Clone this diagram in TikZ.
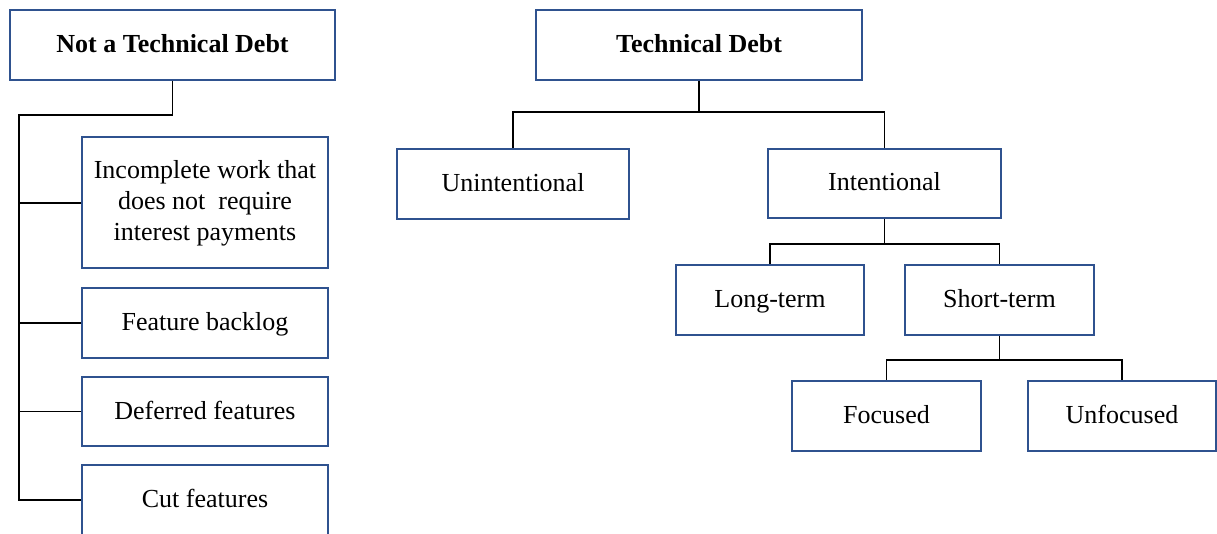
\documentclass[tikz,border=0pt]{standalone}
\usepackage{fontspec}
\setmainfont{Liberation Serif}
\definecolor{boxblue}{HTML}{2F528F}
\tikzset{
  box/.style={draw=boxblue, line width=2pt, fill=white, rectangle,
    align=center, inner sep=2pt, font=\fontsize{26}{31}\selectfont},
  oneline/.style={box, text height=19.5pt, text depth=4.5pt},
  link/.style={draw=black, line width=1.2pt}
}
\begin{document}
\begin{tikzpicture}[x=1pt, y=-1pt]
  \useasboundingbox (0,0) rectangle (1217,534);
  \clip (0,0) rectangle (1217,534);

  % left column: items that are not technical debt
  \node[oneline, minimum width=325pt, minimum height=70pt] (nat) at (172.5,45)
    {\bfseries Not a Technical Debt};
  \node[box, minimum width=246pt, minimum height=131pt] (inc) at (205,203)
    {Incomplete work that\\does not\ \ require\\interest payments};
  \node[oneline, minimum width=246pt, minimum height=70pt] (fb) at (205,323)
    {Feature backlog};
  \node[oneline, minimum width=246pt, minimum height=69pt] (df) at (205,411.5)
    {Deferred features};
  \node[oneline, minimum width=246pt, minimum height=70pt] (cut) at (205,500)
    {Cut features};

  \coordinate (trunk) at (19,115);
  \draw[link] (nat.south) |- (trunk) |- (cut.west);
  \draw[link] (inc.west) -- (inc.west -| trunk);
  \draw[link] (fb.west) -- (fb.west -| trunk);
  \draw[link] (df.west) -- (df.west -| trunk);

  % right tree: kinds of technical debt
  \node[oneline, minimum width=326pt, minimum height=70pt] (td) at (699,45)
    {\bfseries Technical Debt};
  \node[oneline, minimum width=232pt, minimum height=70pt] (un) at (513,184)
    {Unintentional};
  \node[oneline, minimum width=233pt, minimum height=69pt] (in) at (884.5,183.5)
    {Intentional};
  \node[oneline, minimum width=188pt, minimum height=70pt] (lt) at (770,300)
    {Long-term};
  \node[oneline, minimum width=189pt, minimum height=70pt] (st) at (999.5,300)
    {Short-term};
  \node[oneline, minimum width=189pt, minimum height=70pt] (fo) at (886.5,416)
    {Focused};
  \node[oneline, minimum width=188pt, minimum height=70pt] (uf) at (1122,416)
    {Unfocused};

  \draw[link] (td.south) -- ++(0,31) -| (un.north);
  \draw[link] (td.south) -- ++(0,31) -| (in.north);
  \draw[link] (in.south) -- ++(0,25) -| (lt.north);
  \draw[link] (in.south) -- ++(0,25) -| (st.north);
  \draw[link] (st.south) -- ++(0,24) -| (fo.north);
  \draw[link] (st.south) -- ++(0,24) -| (uf.north);
\end{tikzpicture}
\end{document}
